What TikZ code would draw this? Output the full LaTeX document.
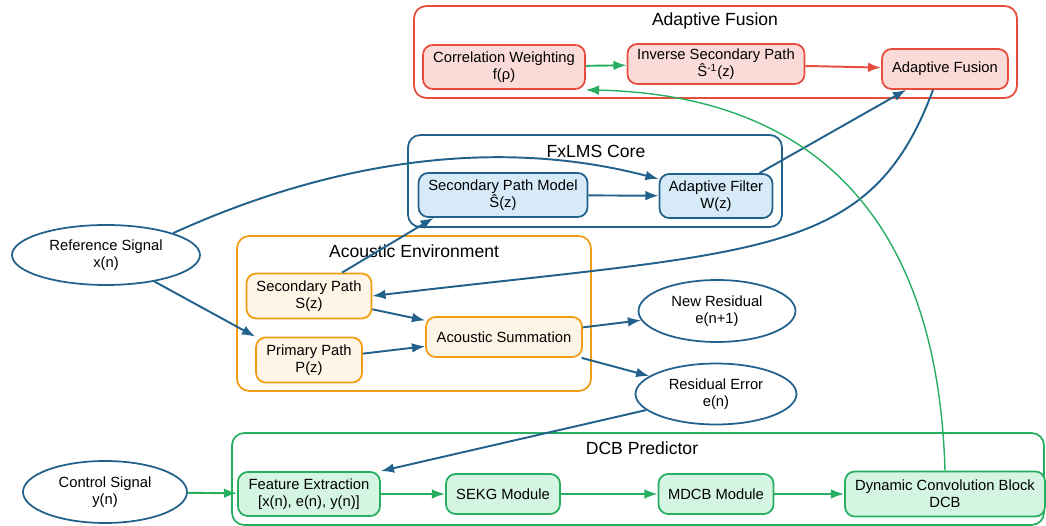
\documentclass[tikz,border=0pt]{standalone}
\usepackage{fontspec}
\setmainfont{Liberation Sans}
\usepackage{tikz}
\usepackage{xcolor}
\usetikzlibrary{arrows.meta, positioning, shapes.geometric, calc}
\definecolor{fusionred}{HTML}{E74C3C}
\definecolor{fusionfill}{HTML}{FADBD8}
\definecolor{corenavy}{HTML}{21618C}
\definecolor{corefill}{HTML}{D6EAF8}
\definecolor{envorange}{HTML}{F39C12}
\definecolor{envfill}{HTML}{FEF5E7}
\definecolor{dcbgreen}{HTML}{27AE60}
\definecolor{dcbfill}{HTML}{D5F5E3}
\newcommand{\blockfont}{\fontsize{8.4}{9.8}\selectfont}
\newcommand{\groupfont}{\fontsize{10}{12}\selectfont}
\tikzset{
  block/.style 2 args={
    draw=#1, fill=#2, rounded corners=5.5pt, line width=1pt,
    font=\blockfont, align=center, inner sep=2pt
  },
  signal/.style={
    ellipse, draw=corenavy, fill=white, line width=1pt,
    font=\blockfont, align=center, inner sep=0pt
  },
  group/.style={draw=#1, rounded corners=7pt, line width=1pt},
  grouptitle/.style={font=\groupfont},
  flow/.style={-{Latex[length=7.5pt, width=5.5pt]}, line width=1.1pt, color=#1},
  flow/.default=corenavy
}

\begin{document}
\begin{tikzpicture}[x=0.02cm, y=0.02cm]
    \useasboundingbox (0,0) rectangle (1046,-526);

    % groups
    \draw[group=fusionred] (414,-6) rectangle (1017,-98);
    \node[grouptitle] (fusiontitle) at (715,-21) {Adaptive Fusion};
    \draw[group=corenavy] (408,-135) rectangle (782,-227);
    \node[grouptitle] (coretitle) at (596,-151) {FxLMS Core};
    \draw[group=envorange] (237,-236) rectangle (591,-391);
    \node[grouptitle] (envtitle) at (414,-251) {Acoustic Environment};
    \draw[group=dcbgreen] (232,-433) rectangle (1044,-525);
    \node[grouptitle] (dcbtitle) at (642,-448) {DCB Predictor};

    % adaptive fusion
    \node[block={fusionred}{fusionfill}, minimum width=3.24cm, minimum height=0.88cm] (cw) at (504,-67) {Correlation Weighting\\f(ρ)};
    \node[block={fusionred}{fusionfill}, minimum width=3.54cm, minimum height=0.8cm] (isp) at (716,-64) {Inverse Secondary Path\\Ŝ\textsuperscript{-1}(z)};
    \node[block={fusionred}{fusionfill}, minimum width=2.52cm, minimum height=0.8cm] (fus) at (945,-69) {Adaptive Fusion};

    % fxlms core
    \node[block={corenavy}{corefill}, minimum width=3.38cm, minimum height=0.88cm] (spm) at (503,-195) {Secondary Path Model\\Ŝ(z)};
    \node[block={corenavy}{corefill}, minimum width=2.26cm, minimum height=0.88cm] (af) at (716,-196) {Adaptive Filter\\W(z)};

    % acoustic environment
    \node[block={envorange}{envfill}, minimum width=2.5cm, minimum height=0.9cm] (sp) at (309,-296) {Secondary Path\\S(z)};
    \node[block={envorange}{envfill}, minimum width=2.12cm, minimum height=0.9cm] (pp) at (309,-360) {Primary Path\\P(z)};
    \node[block={envorange}{envfill}, minimum width=3.12cm, minimum height=0.8cm] (sum) at (504,-337) {Acoustic Summation};

    % dcb predictor
    \node[block={dcbgreen}{dcbfill}, minimum width=2.84cm, minimum height=0.88cm] (fe) at (309,-494) {Feature Extraction\\{[x(n), e(n), y(n)]}};
    \node[block={dcbgreen}{dcbfill}, minimum width=2.28cm, minimum height=0.8cm] (sekg) at (503,-494) {SEKG Module};
    \node[block={dcbgreen}{dcbfill}, minimum width=2.3cm, minimum height=0.8cm] (mdcb) at (716,-494) {MDCB Module};
    \node[block={dcbgreen}{dcbfill}, minimum width=4.0cm, minimum height=0.9cm] (dcb) at (945,-494) {Dynamic Convolution Block\\DCB};

    % signals
    \node[signal, minimum width=3.76cm, minimum height=1.2cm] (ref) at (106,-255) {Reference Signal\\x(n)};
    \node[signal, minimum width=3.14cm, minimum height=1.24cm] (nr) at (717,-311) {New Residual\\e(n+1)};
    \node[signal, minimum width=3.22cm, minimum height=1.22cm] (re) at (716,-394) {Residual Error\\e(n)};
    \node[signal, minimum width=3.28cm, minimum height=1.24cm] (cs) at (105,-492) {Control Signal\\y(n)};

    % connections
    \draw[flow] (ref.north east) .. controls (343,-156) and (506,-139) .. ($(af.west)+(0,17)$);
    \draw[flow] (ref) -- (pp.north west);
    \draw[flow] ($(sp.north)+(33,0)$) -- ($(spm.south west)+(16,0)$);
    \draw[flow] (spm) -- (af);
    \draw[flow] ($(af.north east)+(-14,0)$) -- ($(fus.south west)+(25,0)$);
    \draw[flow] ($(fus.south)+(-12,0)$) .. controls (870,-260) and (760,-250) .. (sp.east);
    \draw[flow] (sp) -- (sum);
    \draw[flow] (pp) -- (sum);
    \draw[flow] (sum) -- (nr);
    \draw[flow] (sum) -- (re);
    \draw[flow] (re) -- (fe.north east);
    \draw[flow=dcbgreen] (cs) -- (fe);
    \draw[flow=dcbgreen] (fe) -- (sekg);
    \draw[flow=dcbgreen] (sekg) -- (mdcb);
    \draw[flow=dcbgreen] (mdcb) -- (dcb);
    \draw[flow=dcbgreen, line width=0.8pt] (dcb.north) .. controls (938,-224) and (819,-95) .. (cw.south east);
    \draw[flow=dcbgreen] (cw) -- (isp);
    \draw[flow=fusionred] (isp) -- (fus);
\end{tikzpicture}
\end{document}
